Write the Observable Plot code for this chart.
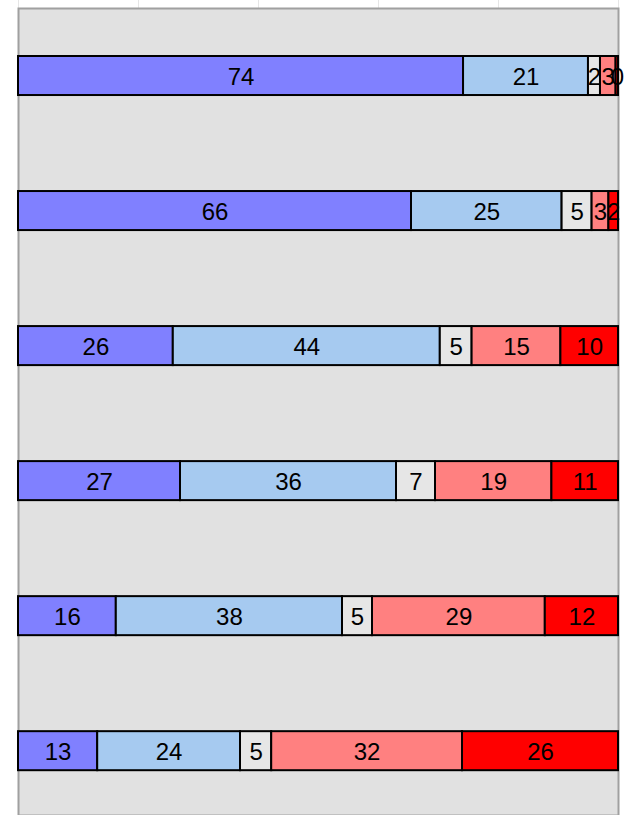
<!DOCTYPE html>
<html>
<head>
<meta charset="utf-8">
<script src="https://cdn.jsdelivr.net/npm/d3@7"></script>
<script src="https://cdn.jsdelivr.net/npm/@observablehq/plot@0.6"></script>
<style>
  html, body { margin: 0; padding: 0; background: #fff; }
  #chart svg { display: block; }
</style>
</head>
<body>
<div id="chart"></div>
<script>
const rows = ["R1", "R2", "R3", "R4", "R5", "R6"];
const categories = ["c1", "c2", "c3", "c4", "c5"];
const colors = ["#8080ff", "#a6caf0", "#e6e6e6", "#ff8080", "#ff0000"];
// segment shares
const values = [
  [74.1, 20.8, 2.0, 2.6, 0.4],
  [65.5, 25.1, 5.0, 2.8, 1.6],
  [25.8, 44.5, 5.3, 14.8, 9.6],
  [27.0, 36.0, 6.5, 19.4, 11.1],
  [16.3, 37.7, 5.0, 28.8, 12.2],
  [13.2, 23.8, 5.2, 31.8, 26.0]
];
// printed labels
const labels = [
  [74, 21, 2, 3, 0],
  [66, 25, 5, 3, 2],
  [26, 44, 5, 15, 10],
  [27, 36, 7, 19, 11],
  [16, 38, 5, 29, 12],
  [13, 24, 5, 32, 26]
];
const gridTicks = [0, 0.2, 0.4, 0.6, 0.8, 1];

const data = [];
rows.forEach((r, i) => categories.forEach((c, j) => data.push({row: r, cat: c, value: values[i][j], label: labels[i][j]})));

const chart = Plot.plot({
  width: 632,
  height: 815,
  marginLeft: 18,
  marginRight: 14,
  marginTop: 0,
  marginBottom: 0,
  style: {fontFamily: "'Liberation Sans', Arial, sans-serif", background: "#fff"},
  x: {domain: [0, 1], axis: null},
  y: {type: "band", domain: rows, range: [56, 770.2], paddingInner: 0.711, paddingOuter: 0, align: 0, round: false, axis: null},
  color: {domain: categories, range: colors},
  marks: [
    Plot.ruleX(gridTicks, {stroke: "#e6e6e6", strokeWidth: 1}),
    Plot.frame({fill: "#e1e1e1", stroke: "#a0a0a0", strokeWidth: 2, insetTop: 8}),
    Plot.barX(data, Plot.stackX({x: "value", y: "row", fill: "cat", order: null, offset: "normalize", stroke: "black", strokeWidth: 2})),
    Plot.text(data, Plot.stackX({x: "value", y: "row", text: d => String(d.label), order: null, offset: "normalize", fill: "black", fontSize: 24, dy: 1}))
  ]
});
document.getElementById("chart").appendChild(chart);
</script>
</body>
</html>
